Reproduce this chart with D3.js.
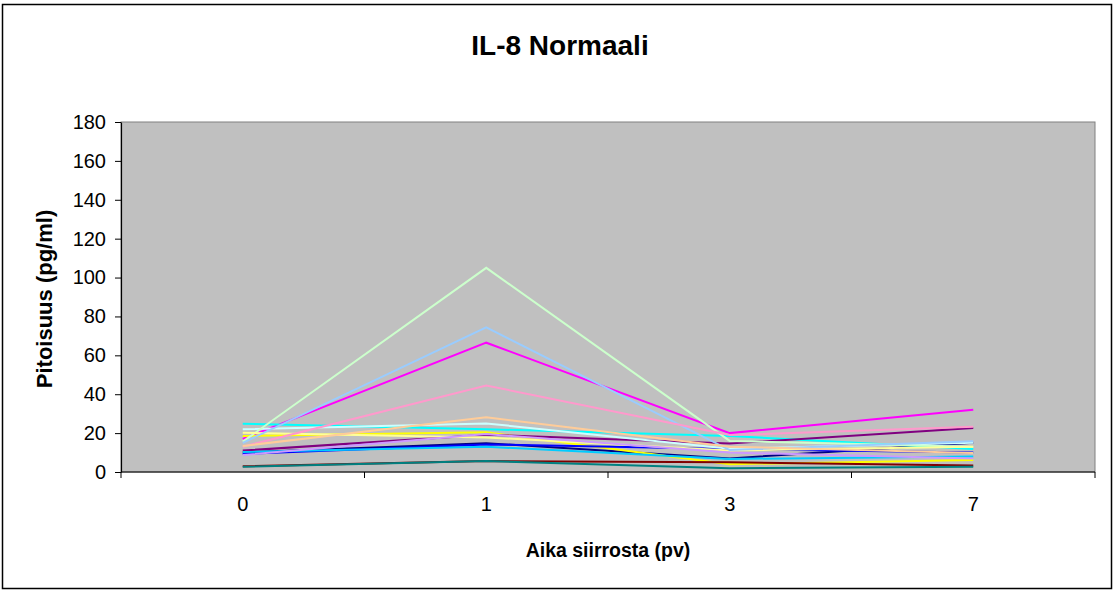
<!DOCTYPE html>
<html>
<head>
<meta charset="utf-8">
<script src="https://cdn.jsdelivr.net/npm/d3@7"></script>
<style>
  html, body { margin: 0; padding: 0; background: #fff; }
  svg { display: block; font-family: Arial, "Liberation Sans", sans-serif; }
</style>
</head>
<body>
<svg id="chart" width="1114" height="592"></svg>
<script>
// Time points (days after passage)
const categories = ["0", "1", "3", "7"];

// Concentration series (pg/ml), one per sample
const s01 = [10, 14.8, 7, 15];     // navy
const s02 = [17, 66.5, 20, 32];    // magenta
const s03 = [18.5, 20.4, 4, 6.2];  // yellow
const s04 = [24.8, 22, 18.5, 11.8];// cyan
const s05 = [11, 19.2, 14.7, 22.6];// purple
const s06 = [3, 5.6, 5, 3.3];      // dark red
const s07 = [2.7, 5.6, 1.9, 2.7];  // teal
const s08 = [9.3, 14.2, 11.8, 10]; // blue
const s09 = [10.3, 13, 6.7, 8];    // sky blue
const s10 = [22, 25, 12, 15];      // light turquoise
const s11 = [15.6, 105, 16, 13];   // light green
const s12 = [20.2, 17.8, 11, 13];  // light yellow
const s13 = [15, 74.4, 11.3, 15.8];// pale blue
const s14 = [13, 44.5, 19, 23.3];  // rose
const s15 = [8.7, 19.5, 10, 7];    // lavender
const s16 = [13.4, 28.1, 13, 9.8]; // tan

const seriesValues = [s01, s02, s03, s04, s05, s06, s07, s08, s09, s10, s11, s12, s13, s14, s15, s16];
const seriesColors = ["#000080", "#FF00FF", "#FFFF00", "#00FFFF", "#800080", "#800000", "#008080", "#0000FF",
                      "#00CCFF", "#CCFFFF", "#CCFFCC", "#FFFF99", "#99CCFF", "#FF99CC", "#CC99FF", "#FFCC99"];

const yTicks = [0, 20, 40, 60, 80, 100, 120, 140, 160, 180];

const svg = d3.select("#chart");

// Outer chart frame
svg.append("rect")
  .attr("x", 2.5).attr("y", 4.5)
  .attr("width", 1109).attr("height", 584)
  .attr("fill", "#fff").attr("stroke", "#000").attr("stroke-width", 1.5);

const plot = { left: 121, top: 122, right: 1095, bottom: 472 };

const x = d3.scaleBand().domain(categories).range([plot.left, plot.right]).padding(0);
const y = d3.scaleLinear().domain([0, 180]).range([plot.bottom, plot.top]);

// Plot area
svg.append("rect")
  .attr("x", plot.left).attr("y", plot.top)
  .attr("width", plot.right - plot.left).attr("height", plot.bottom - plot.top)
  .attr("fill", "#C0C0C0").attr("stroke", "#808080").attr("stroke-width", 1);

// Lines
const line = d3.line()
  .x((d, i) => x(categories[i]) + x.bandwidth() / 2)
  .y(d => y(d));

svg.append("g").selectAll("path")
  .data(seriesValues)
  .join("path")
  .attr("d", d => line(d))
  .attr("fill", "none")
  .attr("stroke", (d, i) => seriesColors[i])
  .attr("stroke-width", 2);

// Y axis
const yAxis = d3.axisLeft(y).tickValues(yTicks).tickSize(6).tickPadding(9).tickSizeOuter(0);
const gy = svg.append("g").attr("transform", `translate(${plot.left},0)`).call(yAxis);
gy.select(".domain").attr("stroke", "#000").attr("stroke-width", 1.2);
gy.selectAll(".tick line").attr("stroke", "#000");
gy.selectAll(".tick text").attr("font-size", 20).attr("fill", "#000")
  .attr("font-family", "Arial, 'Liberation Sans', sans-serif");

// X axis: labels centered in bands, ticks at band boundaries
const gx = svg.append("g").attr("transform", `translate(0,${plot.bottom})`);
gx.append("line")
  .attr("x1", plot.left).attr("x2", plot.right)
  .attr("stroke", "#000").attr("stroke-width", 1.2);
const boundaries = categories.map(c => x(c)).concat([x(categories[categories.length - 1]) + x.bandwidth()]);
gx.selectAll("line.tk").data(boundaries).join("line")
  .attr("class", "tk")
  .attr("x1", d => d).attr("x2", d => d)
  .attr("y1", 0).attr("y2", 6)
  .attr("stroke", "#000");
gx.selectAll("text").data(categories).join("text")
  .attr("x", d => x(d) + x.bandwidth() / 2)
  .attr("y", 39)
  .attr("text-anchor", "middle")
  .attr("font-size", 20)
  .text(d => d);

// Title
svg.append("text")
  .attr("x", 560).attr("y", 55)
  .attr("text-anchor", "middle")
  .attr("font-size", 28).attr("font-weight", "bold")
  .text("IL-8 Normaali");

// Axis titles
svg.append("text")
  .attr("x", 608).attr("y", 557)
  .attr("text-anchor", "middle")
  .attr("font-size", 19.5).attr("font-weight", "bold")
  .text("Aika siirrosta (pv)");

svg.append("text")
  .attr("transform", `translate(52,299) rotate(-90)`)
  .attr("text-anchor", "middle")
  .attr("font-size", 22).attr("font-weight", "bold")
  .text("Pitoisuus (pg/ml)");
</script>
</body>
</html>
